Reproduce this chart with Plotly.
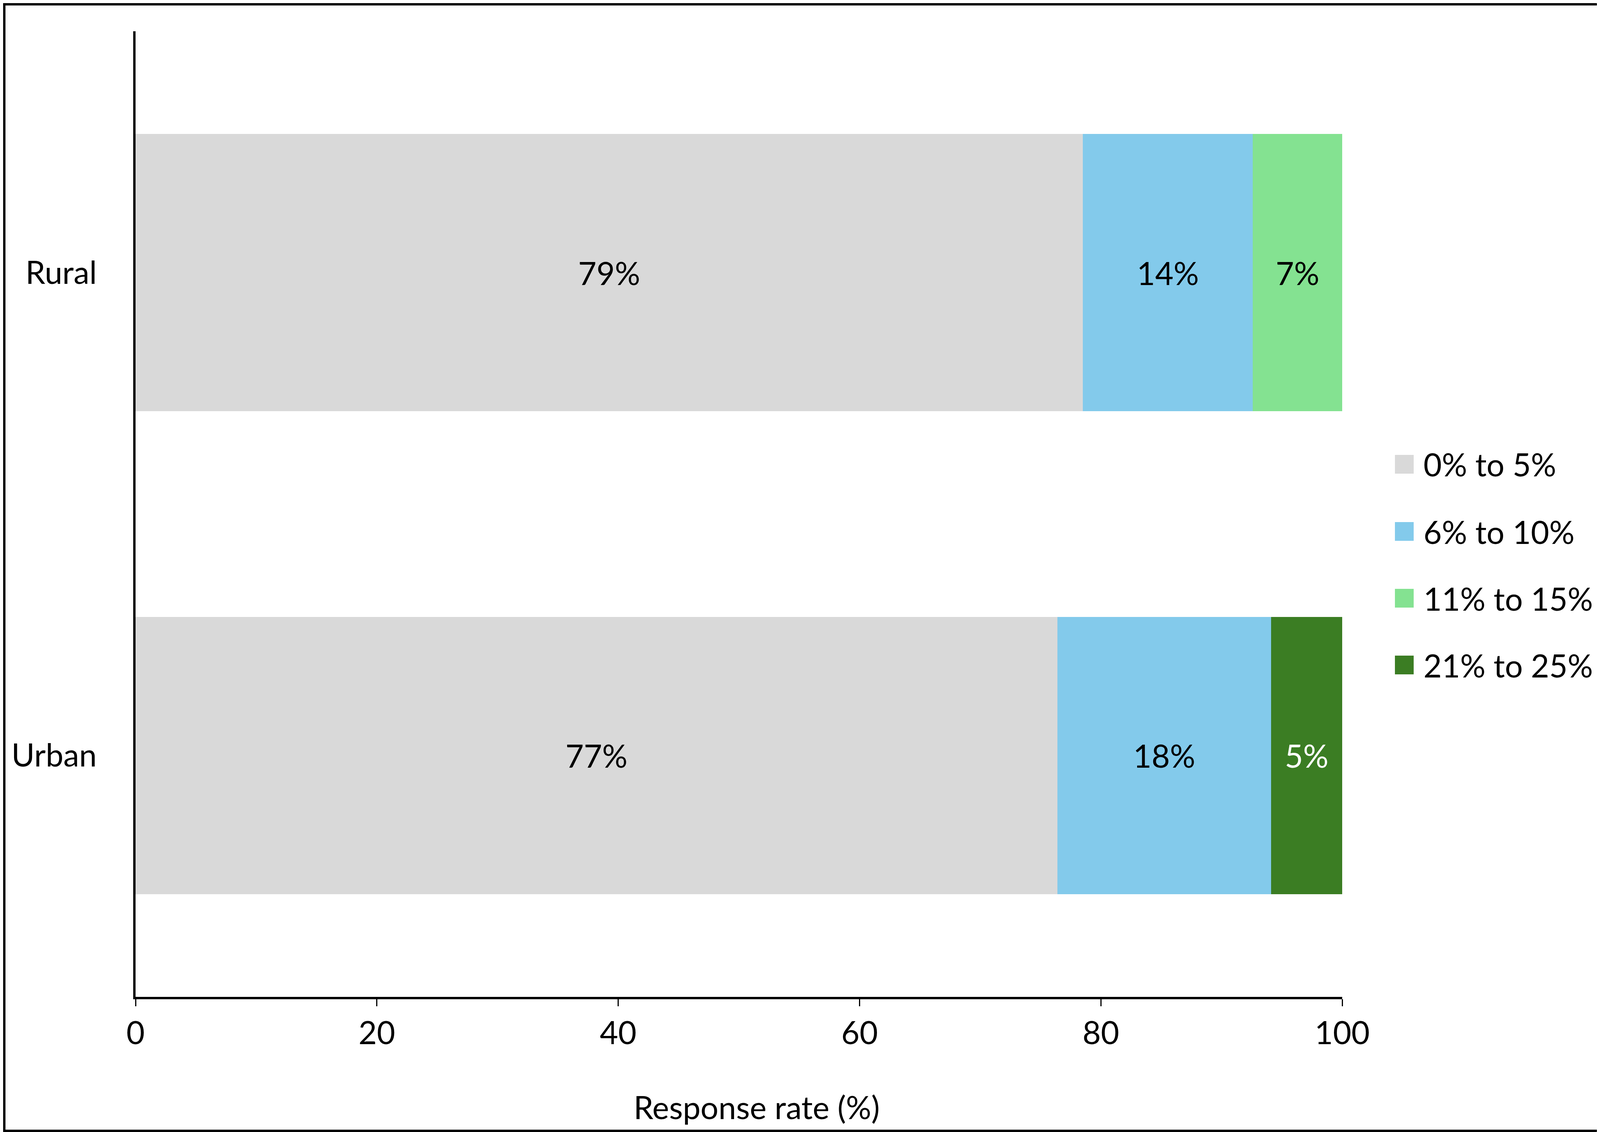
import plotly.graph_objects as go

# ---------------- data ----------------
categories = ["Rural", "Urban"]
series_names = ["0% to 5%", "6% to 10%", "11% to 15%", "21% to 25%"]
values_0_5 = [78.5, 76.4]
values_6_10 = [14.1, 17.7]
values_11_15 = [7.4, None]
values_21_25 = [None, 5.9]
labels_0_5 = ["79%", "77%"]
labels_6_10 = ["14%", "18%"]
labels_11_15 = ["7%", ""]
labels_21_25 = ["", "5%"]
x_ticks = [0, 20, 40, 60, 80, 100]
x_title = "Response rate (%)"

# ---------------- style ----------------
colors = ["#D9D9D9", "#83CAEB", "#84E291", "#3B7D23"]
text_colors = ["#000000", "#000000", "#000000", "#FFFFFF"]
FONT = "Lato"
FS = 81

# figure is drawn inside the browser viewport (body margin 8px)
W, H = 4088, 2891
ML, MR, MT, MB = 339, 660, 72, 346
PW = W - ML - MR
PH = H - MT - MB


def px_x(x):
    return (x - ML) / PW


def px_y(y):
    return (MT + PH - y) / PH


fig = go.Figure()
all_vals = [values_0_5, values_6_10, values_11_15, values_21_25]
all_labels = [labels_0_5, labels_6_10, labels_11_15, labels_21_25]
for i, name in enumerate(series_names):
    fig.add_trace(go.Bar(
        y=categories,
        x=all_vals[i],
        name=name,
        orientation="h",
        marker=dict(color=colors[i], line=dict(width=0)),
        text=all_labels[i],
        textposition="inside",
        insidetextanchor="middle",
        textangle=0,
        constraintext="none",
        textfont=dict(family=FONT, size=FS, color=text_colors[i]),
        hoverinfo="skip",
        showlegend=False,
    ))

# ---------------- legend (square swatches + labels) ----------------
LEG_SQ_X0, LEG_SQ_X1 = 3563, 3611
LEG_SQ_H = 48
LEG_TEXT_X = 3634
LEG_Y = [1181, 1353, 1524, 1695]
for i, name in enumerate(series_names):
    yc = LEG_Y[i]
    fig.add_shape(
        type="rect", xref="paper", yref="paper",
        x0=px_x(LEG_SQ_X0), x1=px_x(LEG_SQ_X1),
        y0=px_y(yc + LEG_SQ_H / 2), y1=px_y(yc - LEG_SQ_H / 2),
        fillcolor=colors[i], line=dict(width=0),
    )
    fig.add_annotation(
        xref="paper", yref="paper",
        x=px_x(LEG_TEXT_X), y=px_y(yc),
        xanchor="left", yanchor="middle",
        text=name, showarrow=False,
        font=dict(family=FONT, size=FS, color="black"),
    )

# ---------------- x-axis title ----------------
fig.add_annotation(
    xref="paper", yref="paper",
    x=px_x(1929), y=px_y(2826),
    xanchor="center", yanchor="middle",
    text=x_title, showarrow=False,
    font=dict(family=FONT, size=FS, color="black"),
)

# ---------------- outer border ----------------
fig.add_shape(
    type="rect", xref="paper", yref="paper",
    x0=px_x(3), x1=px_x(W - 3),
    y0=px_y(H - 3), y1=px_y(3),
    line=dict(color="black", width=6), fillcolor="rgba(0,0,0,0)", layer="above",
)

fig.update_layout(
    width=W, height=H,
    margin=dict(l=ML, r=MR, t=MT, b=MB, pad=0),
    barmode="stack",
    bargap=0.426,
    paper_bgcolor="white",
    plot_bgcolor="white",
    font=dict(family=FONT, size=FS, color="black"),
    showlegend=False,
    xaxis=dict(
        range=[0, 100],
        tickvals=x_ticks,
        ticktext=[str(t) for t in x_ticks],
        showgrid=False, zeroline=False,
        showline=True, linecolor="black", linewidth=6,
        ticks="outside", ticklen=18, tickwidth=3, tickcolor="black",
        tickfont=dict(family=FONT, size=FS, color="black"),
    ),
    yaxis=dict(
        categoryorder="array",
        categoryarray=categories,
        autorange="reversed",
        showgrid=False, zeroline=False,
        showline=True, linecolor="black", linewidth=6,
        ticks="",
        ticklabelstandoff=77,
        tickfont=dict(family=FONT, size=FS, color="black"),
    ),
)

fig.write_html("out.html")
